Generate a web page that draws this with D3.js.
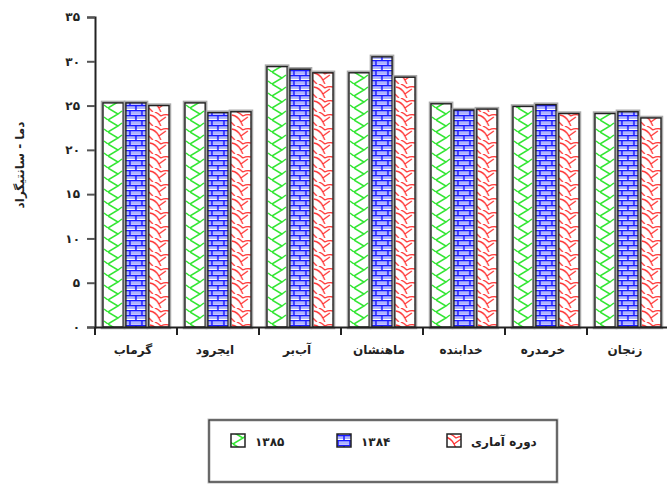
<!DOCTYPE html>
<html><head><meta charset="utf-8">
<script src="https://cdn.jsdelivr.net/npm/d3@7"></script>
<style>body{margin:0;background:#fff}svg{display:block}</style>
</head><body>
<script>
const categories = ["گرماب","ایجرود","آب‌بر","ماهنشان","خدابنده","خرمدره","زنجان"];
const s1385 = [25.3, 25.3, 29.4, 28.7, 25.2, 24.9, 24.1];
const s1384 = [25.3, 24.2, 29.1, 30.5, 24.5, 25.1, 24.3];
const sPeriod = [25.0, 24.3, 28.7, 28.2, 24.6, 24.1, 23.6];
const seriesNames = ["۱۳۸۵","۱۳۸۴","دوره آماری"];
const yTicks = [0,5,10,15,20,25,30,35];
const yTickLabels = ["۰","۵","۱۰","۱۵","۲۰","۲۵","۳۰","۳۵"];
const yTitle = "دما - سانتیگراد";

const W=667,H=484;
const svg=d3.select("body").append("svg").attr("width",W).attr("height",H);
const defs=svg.append("defs");
let pid=0;
function makePattern(type, ox){
  const id="p"+(pid++);
  if(type===0){
    const p=defs.append("pattern").attr("id",id).attr("patternUnits","userSpaceOnUse").attr("x",ox).attr("y",0).attr("width",20).attr("height",12);
    p.append("rect").attr("width",20).attr("height",12).attr("fill","#fff");
    p.append("path").attr("d","M5,0 L15,6 L5,12 M15,6 L19,3 M1,9 L5,12").attr("stroke","#33e633").attr("stroke-width",1.5).attr("fill","none");
  } else if(type===1){
    const p=defs.append("pattern").attr("id",id).attr("patternUnits","userSpaceOnUse").attr("x",ox).attr("y",0).attr("width",12).attr("height",10);
    p.append("rect").attr("width",12).attr("height",10).attr("fill","#fff");
    p.append("rect").attr("x",0).attr("y",1).attr("width",12).attr("height",3).attr("fill","#aeb4ff");
    p.append("rect").attr("x",0).attr("y",6).attr("width",12).attr("height",3).attr("fill","#aeb4ff");
    p.append("path").attr("d","M0,0.5 H12 M0,5.5 H12 M4,0 V5 M10,5 V10").attr("stroke","#1a1aff").attr("stroke-width",1.5).attr("fill","none");
  } else {
    const p=defs.append("pattern").attr("id",id).attr("patternUnits","userSpaceOnUse").attr("x",ox).attr("y",0).attr("width",20).attr("height",14);
    p.append("rect").attr("width",20).attr("height",14).attr("fill","#fff");
    p.append("path").attr("d","M1,3 Q7,4 10,10 M10,10 L17,5 M6,0 Q9,1 12,4 M12,4 Q16,2 20,3 M0,10 L4,14 M10,10 Q11,12 12,14").attr("stroke","#ff3535").attr("stroke-width",1.3).attr("fill","none");
  }
  return "url(#"+id+")";
}

const x0=d3.scaleBand().domain(categories).range([95,669]).paddingInner(0).paddingOuter(0);
const x1=d3.scaleBand().domain(seriesNames).range([8,74]).paddingInner(0.12).paddingOuter(0);
const y=d3.scaleLinear().domain([0,35]).range([327,17]);

const data=categories.map((c,i)=>({c,vals:[s1385[i],s1384[i],sPeriod[i]]}));
const g=svg.append("g");
data.forEach(d=>{
  d.vals.forEach((v,j)=>{
    const xx=x0(d.c)+x1(seriesNames[j]), w=x1.bandwidth();
    g.append("rect").attr("x",xx).attr("y",y(v)).attr("width",w).attr("height",y(0)-y(v))
      .attr("fill","none").attr("stroke","#aaa").attr("stroke-width",4.5);
    g.append("rect").attr("x",xx).attr("y",y(v)).attr("width",w).attr("height",y(0)-y(v))
      .attr("fill",makePattern(j,xx)).attr("stroke","#222").attr("stroke-width",1.4);
  });
});

// y axis
const ya=svg.append("g").attr("transform","translate(95,0)")
  .call(d3.axisLeft(y).tickValues(yTicks).tickSize(8).tickFormat((d,i)=>yTickLabels[i]));
ya.select(".domain").attr("stroke","#222").attr("stroke-width",2);
ya.selectAll(".tick line").attr("stroke","#555").attr("stroke-width",2);
ya.selectAll(".tick text").attr("font-family","DejaVu Sans").attr("font-weight","bold").attr("font-size",12).attr("fill","#222").attr("x",-15);

// x axis
const xa=svg.append("g").attr("transform","translate(0,327)")
  .call(d3.axisBottom(x0).tickSize(0).tickFormat(""));
xa.select(".domain").attr("stroke","#222").attr("stroke-width",2);
const bounds=categories.map(c=>x0(c));
xa.selectAll(".bt").data(bounds).enter().append("line").attr("class","bt")
  .attr("x1",d=>d).attr("x2",d=>d).attr("y1",0).attr("y2",8).attr("stroke","#222").attr("stroke-width",2);
svg.selectAll(".xl").data(categories).enter().append("text")
  .attr("x",d=>x0(d)+x0.bandwidth()/2-3).attr("y",354).attr("text-anchor","middle")
  .attr("font-family","DejaVu Sans").attr("font-weight","bold").attr("font-size",12).attr("fill","#222").text(d=>d);

// y title
svg.append("text").attr("transform","translate(24,165) rotate(-90)").attr("text-anchor","middle")
  .attr("font-family","DejaVu Sans").attr("font-weight","bold").attr("font-size",12).attr("fill","#222").text(yTitle);

// legend
const lg=svg.append("g");
lg.append("rect").attr("x",209).attr("y",420).attr("width",348).attr("height",62).attr("fill","#fff").attr("stroke","#bbb").attr("stroke-width",3);
lg.append("rect").attr("x",209).attr("y",420).attr("width",348).attr("height",62).attr("fill","none").attr("stroke","#333").attr("stroke-width",1.2);
const lx=[231,337,447];
seriesNames.forEach((n,j)=>{
  lg.append("rect").attr("x",lx[j]).attr("y",434).attr("width",14).attr("height",13).attr("fill",makePattern(j,lx[j]-3)).attr("stroke","#222").attr("stroke-width",1.5);
  lg.append("text").attr("x",lx[j]+24).attr("y",446).attr("font-family","DejaVu Sans").attr("font-weight","bold").attr("font-size",12).attr("fill","#222").attr("text-anchor","start").text(n);
});
</script>
</body></html>
